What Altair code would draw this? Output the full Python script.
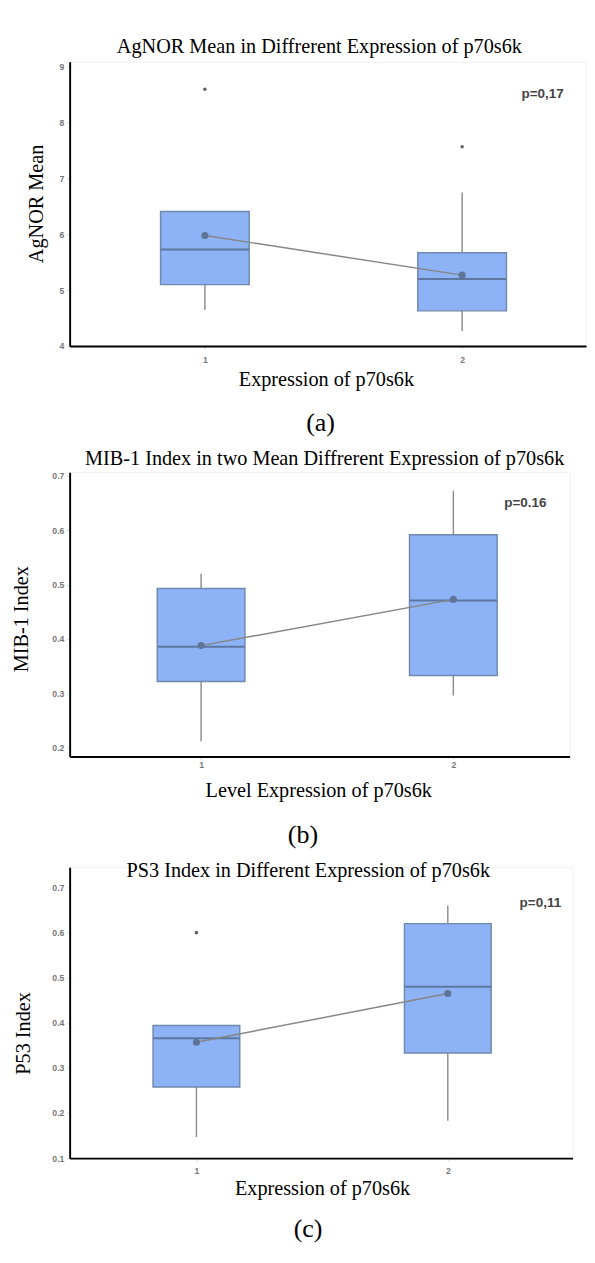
import altair as alt
import pandas as pd

groups = [1, 2]

# ---- panel (a): AgNOR mean
a_q1 = [5.10, 4.63]
a_q3 = [6.41, 5.67]
a_med = [5.73, 5.20]
a_mean = [5.98, 5.27]
a_lo = [4.65, 4.27]
a_hi = [6.41, 6.75]
a_out_g = [1, 2]
a_out_v = [8.60, 7.57]
a_ticks = [4, 5, 6, 7, 8, 9]

# ---- panel (b): MIB-1 index
b_q1 = [0.322, 0.333]
b_q3 = [0.493, 0.592]
b_med = [0.386, 0.471]
b_mean = [0.388, 0.473]
b_lo = [0.212, 0.296]
b_hi = [0.520, 0.673]
b_out_g = []
b_out_v = []
b_ticks = [0.2, 0.3, 0.4, 0.5, 0.6, 0.7]

# ---- panel (c): P53 index
c_q1 = [0.258, 0.333]
c_q3 = [0.394, 0.620]
c_med = [0.366, 0.480]
c_mean = [0.357, 0.465]
c_lo = [0.147, 0.183]
c_hi = [0.394, 0.660]
c_out_g = [1]
c_out_v = [0.60]
c_ticks = [0.1, 0.2, 0.3, 0.4, 0.5, 0.6, 0.7]

FILL = "#8db2f6"
EDGE = "#6f89ae"
MED = "#5c78a0"
WHISK = "#8c8c8c"
MEANC = "#5f7597"
MEANL = "#858585"
OUTC = "#666666"
SERIF = "Liberation Serif"
SANS = "Liberation Sans"


def panel(letter, title, ytitle, xtitle, q1, q3, med, mean, lo, hi, out_g, out_v,
          ptext, yticks, yfmt, ydom, xdom, W, H, box_w, ytx, yty, xtx, xty,
          xlabpad, title_dx, title_off, ptx, pty, letter_dx, letter_off):
    df = pd.DataFrame({"g": groups, "q1": q1, "q3": q3, "med": med,
                       "mean": mean, "lo": lo, "hi": hi})
    out = pd.DataFrame({"g": out_g, "v": out_v})
    xs = alt.Scale(domain=xdom, nice=False, zero=False)
    ys = alt.Scale(domain=ydom, nice=False, zero=False)
    xax = alt.Axis(values=groups, format="d", grid=False, domainColor="black",
                   domainWidth=2, ticks=True, tickSize=3, tickColor="#d6d6d6",
                   labelFont=SANS, labelFontSize=9, labelFontWeight="bold",
                   labelColor="#777777", labelPadding=xlabpad,
                   titleFont=SERIF, titleFontSize=21, titleFontWeight="normal",
                   titleColor="black", titleX=xtx, titleY=xty,
                   titleBaseline="middle", titleAlign="center")
    yax = alt.Axis(values=yticks, format=yfmt, grid=False, domainColor="black",
                   domainWidth=2, ticks=True, tickSize=3, tickColor="#d6d6d6",
                   labelFont=SANS, labelFontSize=9, labelFontWeight="bold",
                   labelColor="#777777", labelPadding=3,
                   titleFont=SERIF, titleFontSize=21, titleFontWeight="normal",
                   titleColor="black", titleX=ytx, titleY=yty,
                   titleBaseline="middle", titleAlign="center")

    def X():
        return alt.X("g:Q", scale=xs, axis=xax, title=xtitle)

    def Y(f):
        return alt.Y(f"{f}:Q", scale=ys, axis=yax, title=ytitle)

    whisk = alt.Chart(df).mark_rule(color=WHISK, strokeWidth=1.5).encode(
        x=X(), y=Y("lo"), y2="hi:Q")
    box = alt.Chart(df).mark_bar(size=box_w, fill=FILL, stroke=EDGE,
                                 strokeWidth=1.5, opacity=1).encode(
        x=X(), y=Y("q1"), y2="q3:Q")
    medt = alt.Chart(df).mark_tick(size=box_w, thickness=2, color=MED,
                                   orient="horizontal", opacity=1).encode(
        x=X(), y=Y("med"))
    line = alt.Chart(df).mark_line(color=MEANL, strokeWidth=1.5).encode(
        x=X(), y=Y("mean"))
    pts = alt.Chart(df).mark_circle(size=55, color=MEANC, opacity=1).encode(
        x=X(), y=Y("mean"))
    layers = [whisk, box, medt, line, pts]
    if len(out_g):
        layers.append(alt.Chart(out).mark_circle(size=14, color=OUTC, opacity=1)
                      .encode(x=X(), y=Y("v")))
    ptxt = alt.Chart(pd.DataFrame({"t": [ptext]})).mark_text(
        align="left", baseline="middle", font=SANS, fontSize=14,
        fontWeight="bold", color="#444444").encode(
        x=alt.value(ptx), y=alt.value(pty), text="t:N")
    layers.append(ptxt)

    inner = alt.layer(*layers).properties(
        width=W, height=H,
        title=alt.Title(title, anchor="start", frame="group", dx=title_dx,
                        offset=title_off, font=SERIF, fontSize=21,
                        fontWeight="normal", color="black"))
    return alt.vconcat(inner).properties(
        title=alt.Title(letter, orient="bottom", anchor="start", frame="bounds",
                        dx=letter_dx, offset=letter_off, font=SERIF,
                        fontSize=27, fontWeight="normal", color="black"))


pa = panel("(a)", "AgNOR Mean in Diffrerent Expression of p70s6k", "AgNOR Mean",
           "Expression of p70s6k", a_q1, a_q3, a_med, a_mean, a_lo, a_hi,
           a_out_g, a_out_v, "p=0,17", a_ticks, "d", [4, 9.09], [0.493, 2.463],
           536, 295, 92, -34, 147, 266, 35, 7, 49, 5, 469, 34, 291, 22)

pb = panel("(b)", "MIB-1 Index in two Mean Diffrerent Expression of p70s6k",
           "MIB-1 Index", "Level Expression of p70s6k", b_q1, b_q3, b_med,
           b_mean, b_lo, b_hi, b_out_g, b_out_v, "p=0.16", b_ticks, ".1f",
           [0.184, 0.707], [0.498, 2.442], 519, 295, 91, -50, 152, 258, 36, 2,
           16, 3, 451, 32, 288, 22)

pc = panel("(c)", "PS3 Index in Different Expression of p70s6k", "P53 Index",
           "Expression of p70s6k", c_q1, c_q3, c_med, c_mean, c_lo, c_hi,
           c_out_g, c_out_v, "p=0,11", c_ticks, ".1f", [0.1, 0.745],
           [0.515, 2.477], 522, 302, 90, -48, 172, 262, 32, 6, 59, -14, 467,
           37, 292, 18)

chart = alt.vconcat(pa, pb, pc, spacing=12).properties(
    padding={"left": 2, "top": 5, "right": 0, "bottom": 0}
).configure_view(stroke="#f0f0f0")

chart.save("out.html", embed_options={"renderer": "svg", "actions": False})
